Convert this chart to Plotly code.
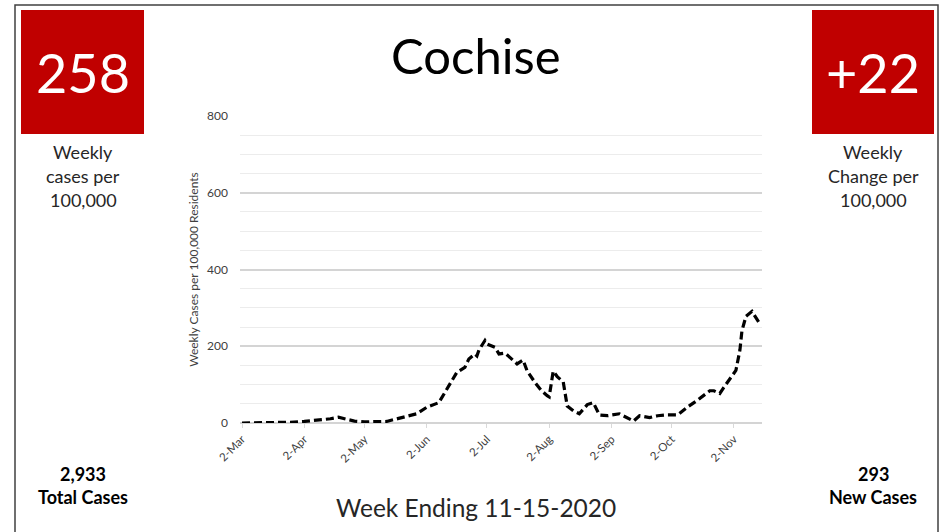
import plotly.graph_objects as go

# ---- data ----
dates = ["2020-03-02", "2020-03-12", "2020-03-23", "2020-03-26", "2020-04-02", "2020-04-08",
         "2020-04-15", "2020-04-19", "2020-04-23", "2020-04-27", "2020-05-02", "2020-05-07",
         "2020-05-13", "2020-05-19", "2020-05-24", "2020-05-28", "2020-06-02", "2020-06-06",
         "2020-06-08", "2020-06-11", "2020-06-14", "2020-06-17", "2020-06-21", "2020-06-23",
         "2020-06-26", "2020-06-27", "2020-06-28", "2020-07-01", "2020-07-02", "2020-07-06",
         "2020-07-08", "2020-07-11", "2020-07-13", "2020-07-17", "2020-07-20", "2020-07-22",
         "2020-07-26", "2020-07-29", "2020-08-01", "2020-08-02", "2020-08-04", "2020-08-06",
         "2020-08-09", "2020-08-11", "2020-08-14", "2020-08-17", "2020-08-21", "2020-08-24",
         "2020-08-27", "2020-08-31", "2020-09-06", "2020-09-10", "2020-09-13", "2020-09-16",
         "2020-09-21", "2020-09-25", "2020-09-29", "2020-10-05", "2020-10-10", "2020-10-15",
         "2020-10-19", "2020-10-21", "2020-10-23", "2020-10-26", "2020-10-28", "2020-10-31",
         "2020-11-03", "2020-11-05", "2020-11-06", "2020-11-08", "2020-11-11", "2020-11-15"]
weekly_rate = [0, 0, 0, 2, 4, 7,
               11, 15, 9, 5, 3, 3,
               4, 12, 18, 24, 41, 50,
               53, 79, 105, 132, 145, 167,
               180, 175, 190, 215, 206, 197,
               180, 182, 173, 154, 164, 136,
               105, 85, 71, 68, 135, 121,
               107, 44, 32, 24, 48, 53,
               21, 19, 24, 14, 5, 19,
               14, 19, 21, 21, 42, 60,
               75, 84, 84, 77, 93, 115,
               137, 190, 240, 278, 291, 258]

tick_dates = ["2020-03-02", "2020-04-02", "2020-05-02", "2020-06-02", "2020-07-02",
              "2020-08-02", "2020-09-02", "2020-10-02", "2020-11-02"]
tick_labels = ["2-Mar", "2-Apr", "2-May", "2-Jun", "2-Jul", "2-Aug", "2-Sep", "2-Oct", "2-Nov"]

title = "Cochise"
weekly_cases = "258"
weekly_change = "+22"
total_cases = "2,933"
new_cases = "293"
week_ending = "Week Ending 11-15-2020"

FONT = "Lato"
RED = "#C00000"

W, H = 941, 532
PL, PR, PT, PB = 240, 762, 116, 423   # plot area in page pixels
PW, PH = PR - PL, PB - PT

fig = go.Figure()
fig.add_trace(go.Scatter(
    x=dates, y=weekly_rate, mode="lines",
    line=dict(color="black", width=3.2, dash="8px,4px"),
    hoverinfo="x+y", showlegend=False,
))

fig.update_layout(
    width=W, height=H,
    margin=dict(l=PL, r=W - PR, t=PT, b=H - PB, pad=0),
    paper_bgcolor="white", plot_bgcolor="white",
    font=dict(family=FONT, color="#404040"),
    xaxis=dict(
        range=["2020-03-01", "2020-11-16"],
        tickvals=tick_dates, ticktext=tick_labels,
        tickangle=-45, tickfont=dict(size=11.5, color="#404040"),
        ticks="outside", ticklen=4, tickcolor="#d9d9d9",
        showgrid=False, zeroline=False, showline=False,
    ),
    yaxis=dict(
        range=[0, 800], tickvals=[0, 200, 400, 600, 800],
        tickfont=dict(size=12, color="#404040"),
        showgrid=True, gridcolor="#d4d4d4", gridwidth=1.5,
        minor=dict(dtick=50, showgrid=True, gridcolor="#ececec", gridwidth=1),
        zeroline=True, zerolinecolor="#d4d4d4", zerolinewidth=1.5,
        ticks="", ticklabelstandoff=11,
        title=dict(text="Weekly Cases per 100,000 Residents",
                   font=dict(size=12, color="#404040"), standoff=5),
    ),
)

def px(x, y):
    # convert page pixel coordinates to paper coordinates
    return (x - PL) / PW, (PB - y) / PH

# outer frame
a0, b0 = px(15, 545)
a1, b1 = px(938, 5)
fig.add_shape(type="rect", xref="paper", yref="paper", layer="below",
              x0=a0, x1=a1, y0=b0, y1=b1,
              line=dict(color="#404040", width=1.5), fillcolor="rgba(0,0,0,0)")

# red boxes
for (x0, y0, x1, y1) in [(21, 10, 144, 134), (812, 10, 934, 134)]:
    a0, b0 = px(x0, y1)
    a1, b1 = px(x1, y0)
    fig.add_shape(type="rect", xref="paper", yref="paper", x0=a0, x1=a1, y0=b0, y1=b1,
                  fillcolor=RED, line=dict(width=0))

def txt(x, y, text, size, color="#262626", bold=False):
    a, b = px(x, y)
    if bold:
        text = "<b>" + text + "</b>"
    fig.add_annotation(xref="paper", yref="paper", x=a, y=b, text=text, showarrow=False,
                       xanchor="center", yanchor="middle",
                       font=dict(family=FONT, size=size, color=color))

txt(83, 73, weekly_cases, 54, "white")
txt(873, 73, weekly_change, 54, "white")
txt(476, 55, title, 49, "black")
for i, line in enumerate(["Weekly", "cases per", "100,000"]):
    txt(83, 152 + 24 * i, line, 18)
for i, line in enumerate(["Weekly", "Change per", "100,000"]):
    txt(873, 152 + 24 * i, line, 18)
txt(83, 474, total_cases, 18, "black", True)
txt(83, 497, "Total Cases", 18, "black", True)
txt(873, 474, new_cases, 18, "black", True)
txt(873, 497, "New Cases", 18, "black", True)
txt(476, 507, week_ending, 24.5, "#262626")

fig.write_html("out.html", config={"displayModeBar": False},
               post_script="document.body.style.margin='0';")
